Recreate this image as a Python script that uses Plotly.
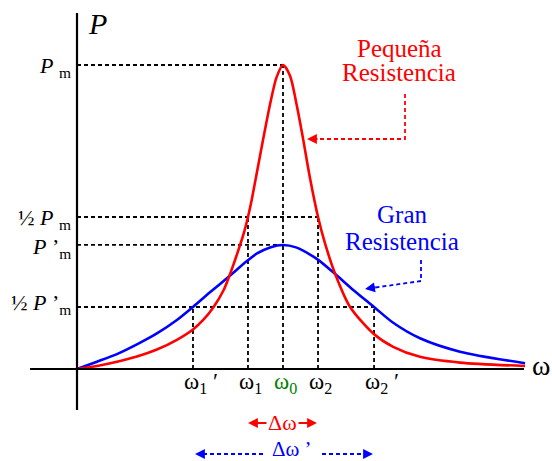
import plotly.graph_objects as go

# ---------------- data (normalised units: omega0 = 1, Pm = 1) ----------------
red_omega = [0, 0.097, 0.194, 0.291, 0.388, 0.485, 0.563, 0.615, 0.664, 0.712, 0.739,
             0.777, 0.809, 0.830, 0.848, 0.888, 0.937, 0.969, 1.0, 1.034, 1.066, 1.098,
             1.131, 1.170, 1.204, 1.252, 1.325, 1.438, 1.535, 1.665, 1.859, 2.175]
red_power = [0, 0.010, 0.024, 0.041, 0.064, 0.096, 0.130, 0.163, 0.205, 0.260, 0.305,
             0.378, 0.445, 0.500, 0.556, 0.700, 0.870, 0.960, 1.0, 0.965, 0.870, 0.755,
             0.628, 0.500, 0.413, 0.315, 0.205, 0.117, 0.073, 0.040, 0.021, 0.010]

blue_omega = [0, 0.097, 0.194, 0.291, 0.388, 0.485, 0.563, 0.647, 0.739, 0.825, 0.874,
              0.937, 1.0, 1.063, 1.164, 1.252, 1.341, 1.442, 1.535, 1.665, 1.859, 2.175]
blue_power = [0, 0.024, 0.049, 0.081, 0.117, 0.161, 0.204, 0.253, 0.305, 0.355, 0.380,
              0.400, 0.408, 0.400, 0.362, 0.313, 0.260, 0.204, 0.152, 0.101, 0.057, 0.019]

# characteristic frequencies and power levels
omega_names = ["ω<sub>1</sub> ′", "ω<sub>1</sub>", "ω<sub>0</sub>", "ω<sub>2</sub>", "ω<sub>2</sub> ′"]
omega_marks = [0.563, 0.830, 1.0, 1.170, 1.442]
omega_levels = [0.204, 0.500, 1.0, 0.500, 0.204]   # height of each vertical dashed line

level_names = ["<i>P</i> <sub>m</sub>", "½ <i>P</i> <sub>m</sub>",
               "<i>P</i> ’<sub>m</sub>", "½ <i>P</i> ’<sub>m</sub>"]
level_values = [1.0, 0.500, 0.408, 0.204]
level_ends = [1.0, 1.170, 1.0, 1.442]               # omega where each horizontal dashed line stops

# ---------------- layout helpers ----------------
W, H = 552, 461
X0PX, Y0PX, XSC, YSC = 77, 369, 206, 304
xr = [(0 - X0PX) / XSC, (W - X0PX) / XSC]
yr = [(Y0PX - H) / YSC, (Y0PX - 0) / YSC]

def px(x):
    return x / W

def py(y):
    return 1 - y / H

FONT = "Liberation Serif, Times New Roman, serif"
RED, BLUE, GREEN = "#ff0000", "#0000ff", "#008000"

fig = go.Figure()
fig.add_trace(go.Scatter(x=blue_omega, y=blue_power, mode="lines",
                         line=dict(color=BLUE, width=2.6, shape="spline", smoothing=0.8),
                         hoverinfo="skip", showlegend=False))
fig.add_trace(go.Scatter(x=red_omega, y=red_power, mode="lines",
                         line=dict(color=RED, width=2.6, shape="spline", smoothing=0.8),
                         hoverinfo="skip", showlegend=False))

shapes = []
dash = dict(color="black", width=1.8, dash="4px,3px")
for v, e in zip(level_values, level_ends):
    shapes.append(dict(type="line", xref="x", yref="y", x0=0, x1=e, y0=v, y1=v,
                       line=dash, layer="below"))
for m, l in zip(omega_marks, omega_levels):
    shapes.append(dict(type="line", xref="x", yref="y", x0=m, x1=m, y0=0, y1=l,
                       line=dash, layer="below"))

# axes
shapes.append(dict(type="line", xref="paper", yref="paper", x0=px(77), x1=px(77),
                   y0=py(13), y1=py(410), line=dict(color="black", width=2.2)))
shapes.append(dict(type="line", xref="paper", yref="paper", x0=px(30), x1=px(524),
                   y0=py(369), y1=py(369), line=dict(color="black", width=2.2)))

# pointer lines
def path(pts):
    return "M " + " L ".join(f"{px(a):.5f},{py(b):.5f}" for a, b in pts)

shapes.append(dict(type="path", xref="paper", yref="paper",
                   path=path([(405, 94), (405, 139), (314, 139)]),
                   line=dict(color=RED, width=1.8, dash="4px,3px")))
shapes.append(dict(type="path", xref="paper", yref="paper",
                   path=path([(421, 260), (421, 281), (372, 288)]),
                   line=dict(color=BLUE, width=1.8, dash="4px,3px")))
shapes.append(dict(type="line", xref="paper", yref="paper", x0=px(263), x1=px(202),
                   y0=py(454), y1=py(454), line=dict(color=BLUE, width=1.8, dash="4px,3px")))
shapes.append(dict(type="line", xref="paper", yref="paper", x0=px(322), x1=px(366),
                   y0=py(454), y1=py(454), line=dict(color=BLUE, width=1.8, dash="4px,3px")))

ann = []

def text(x, y, t, size, color="black", xanchor="center", yanchor="middle", xref="paper", xshift=0):
    ann.append(dict(x=x, y=y, xref=xref, yref="paper", text=t, showarrow=False,
                    xanchor=xanchor, yanchor=yanchor, xshift=xshift,
                    font=dict(family=FONT, size=size, color=color)))

def head(x, y, dx, dy, color):
    ann.append(dict(x=px(x), y=py(y), xref="paper", yref="paper", text="", showarrow=True,
                    ax=dx, ay=dy, arrowhead=2, arrowsize=1.1, arrowwidth=1.8,
                    arrowcolor=color, standoff=0, startstandoff=0))

# axis titles
text(px(86), py(24), "<i>P</i>", 30, xanchor="left")
text(px(530), py(365), "ω", 28, xanchor="left")

# level labels
level_y = [67, 219, 248, 304]
for name, yy in zip(level_names, level_y):
    text(px(73), py(yy), name, 22, xanchor="right")

# omega labels
for name, m in zip(omega_names, omega_marks):
    col = GREEN if name.startswith("ω<sub>0") else "black"
    text(m, py(383), name, 23, color=col, xanchor="left", xref="x", xshift=-11)

# curve labels
text(px(399), py(48), "Pequeña", 25, color=RED)
text(px(399), py(73), "Resistencia", 25, color=RED)
text(px(402), py(214), "Gran", 25, color=BLUE)
text(px(402), py(241), "Resistencia", 25, color=BLUE)

# pointer arrowheads
head(307, 139, 12, 0, RED)
head(365, 289, 12, -2, BLUE)

# delta omega markers
text(px(282), py(422), "Δω", 22, color=RED)
head(248, 423, 20, 0, RED)
head(317, 423, -20, 0, RED)
text(px(292), py(449), "Δω ’", 21, color=BLUE)
head(195, 454, 10, 0, BLUE)
head(373, 454, -10, 0, BLUE)

fig.update_layout(
    width=W, height=H, autosize=False,
    margin=dict(l=0, r=0, t=0, b=0),
    paper_bgcolor="white", plot_bgcolor="white",
    xaxis=dict(range=xr, visible=False, fixedrange=True),
    yaxis=dict(range=yr, visible=False, fixedrange=True),
    shapes=shapes, annotations=ann, showlegend=False,
)

fig.write_html("out.html", config={"displayModeBar": False},
               post_script="document.body.style.margin='0';document.body.style.overflow='hidden';")
